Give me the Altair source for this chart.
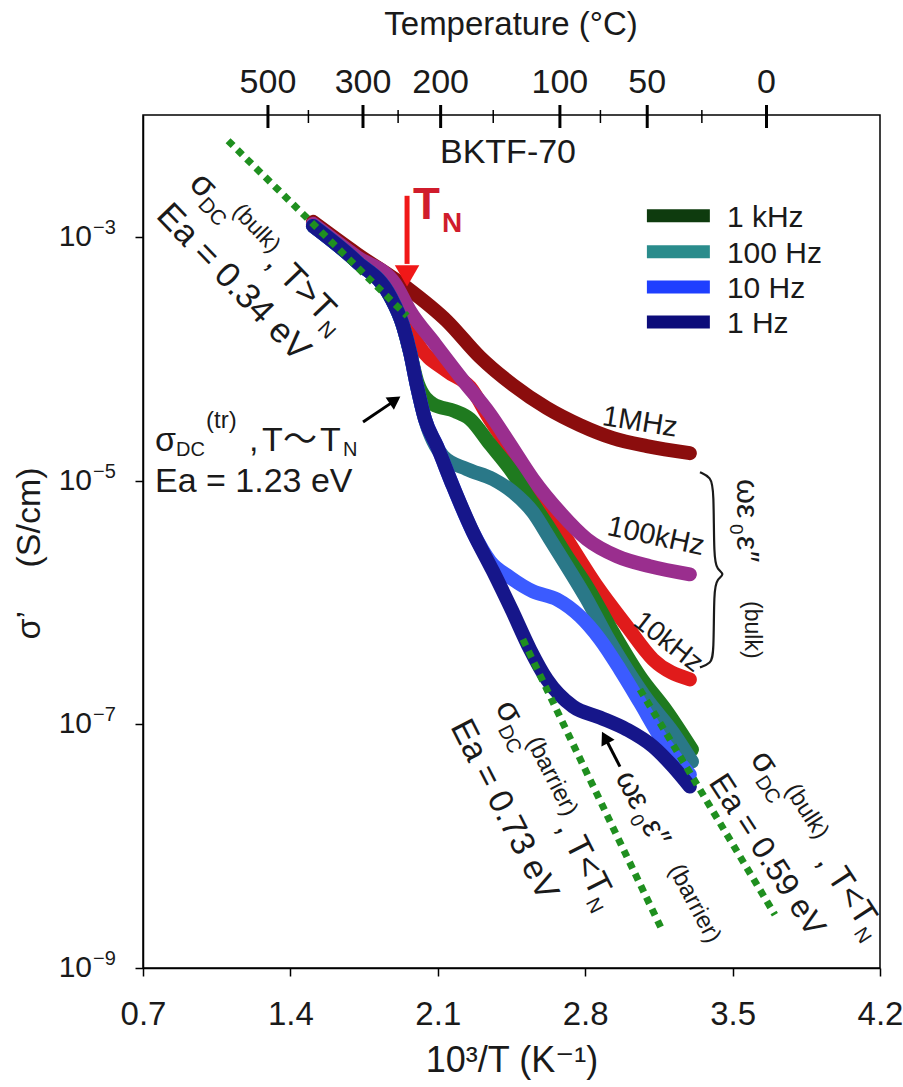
import altair as alt
import pandas as pd

FONT = "Liberation Sans, Arial, DejaVu Sans, sans-serif"
INK = "#1a1a1a"

# ---------------- data ----------------
# x = 1000/T (K^-1), lg = log10(sigma' in S/cm)
x_1MHz = [1.507, 1.716, 1.954, 2.143, 2.300, 2.457, 2.618, 2.775, 2.932, 3.093, 3.297]
lg_1MHz = [-2.877, -3.140, -3.419, -3.690, -3.986, -4.216, -4.405, -4.545, -4.652, -4.717, -4.775]

x_100kHz = [1.507, 1.716, 1.897, 1.968, 2.087, 2.215, 2.348, 2.443, 2.552, 2.680, 2.808, 2.951, 3.107, 3.297]
lg_100kHz = [-2.893, -3.164, -3.386, -3.608, -3.879, -4.167, -4.454, -4.701, -4.988, -5.260, -5.481, -5.621, -5.703, -5.769]

x_10kHz = [1.507, 1.716, 1.873, 1.944, 2.006, 2.143, 2.253, 2.348, 2.457, 2.585, 2.713, 2.856, 2.998, 3.122, 3.297]
lg_10kHz = [-2.901, -3.181, -3.444, -3.657, -3.879, -4.101, -4.233, -4.500, -4.783, -5.128, -5.481, -5.868, -6.196, -6.468, -6.632]

x_1kHz = [1.507, 1.716, 1.873, 1.935, 1.968, 2.006, 2.077, 2.181, 2.253, 2.348, 2.443, 2.538, 2.633, 2.713, 2.808, 2.932, 3.060, 3.188, 3.307]
lg_1kHz = [-2.910, -3.205, -3.485, -3.731, -3.945, -4.208, -4.372, -4.430, -4.495, -4.701, -4.906, -5.153, -5.399, -5.621, -5.868, -6.246, -6.607, -6.895, -7.207]

x_100Hz = [1.507, 1.716, 1.873, 1.935, 1.968, 2.001, 2.039, 2.125, 2.238, 2.362, 2.457, 2.552, 2.633, 2.713, 2.808, 2.903, 2.998, 3.093, 3.217, 3.307]
lg_100Hz = [-2.910, -3.205, -3.485, -3.731, -3.945, -4.224, -4.495, -4.800, -4.906, -4.988, -5.095, -5.260, -5.481, -5.703, -5.975, -6.279, -6.550, -6.796, -7.067, -7.306]

x_10Hz = [1.507, 1.716, 1.873, 1.935, 1.968, 2.001, 2.039, 2.096, 2.172, 2.267, 2.348, 2.443, 2.552, 2.666, 2.775, 2.870, 2.965, 3.060, 3.155, 3.297]
lg_10Hz = [-2.910, -3.205, -3.485, -3.731, -3.945, -4.224, -4.495, -4.717, -5.046, -5.424, -5.662, -5.794, -5.909, -5.975, -6.114, -6.303, -6.550, -6.821, -7.100, -7.413]

x_1Hz = [1.507, 1.716, 1.873, 1.935, 1.968, 2.001, 2.039, 2.096, 2.172, 2.267, 2.362, 2.452, 2.538, 2.618, 2.742, 2.870, 2.998, 3.122, 3.217, 3.297]
lg_1Hz = [-2.910, -3.205, -3.485, -3.731, -3.945, -4.224, -4.495, -4.717, -5.046, -5.424, -5.744, -6.065, -6.385, -6.632, -6.854, -6.944, -7.043, -7.182, -7.347, -7.511]

series_names = ["1MHz", "10kHz", "100kHz", "1kHz", "100Hz", "10Hz", "1Hz"]
series_x = [x_1MHz, x_10kHz, x_100kHz, x_1kHz, x_100Hz, x_10Hz, x_1Hz]
series_lg = [lg_1MHz, lg_10kHz, lg_100kHz, lg_1kHz, lg_100Hz, lg_10Hz, lg_1Hz]
series_colors = ["#8B0D0D", "#E01B1B", "#9A2E8E", "#1F7A1F", "#2A7888", "#3B5BFF", "#16168A"]

# Arrhenius fits (dotted green lines): end points
fit_names = ["bulk_high", "barrier", "bulk_low"]
fit_x = [[1.104, 1.954], [2.504, 3.169], [3.060, 3.701]]
fit_lg = [[-2.211, -3.649], [-6.303, -8.703], [-6.714, -8.563]]

legend_labels = ["1 kHz", "100 Hz", "10 Hz", "1 Hz"]
legend_colors = ["#0E3B0E", "#2A8C8C", "#1F3FFF", "#0C0C7A"]
legend_lg = [-2.827, -3.123, -3.411, -3.698]

x_ticks = [0.7, 1.4, 2.1, 2.8, 3.5, 4.2]
y_ticks = [1e-9, 1e-7, 1e-5, 1e-3]
y_tick_exp = ["\u22129", "\u22127", "\u22125", "\u22123"]

temp_major = [500, 300, 200, 100, 50, 0]
temp_minor = [400, 250, 150, 75, 25]

brace_x = [3.345, 3.397, 3.411, 3.411, 3.426, 3.464, 3.426, 3.411, 3.411, 3.397, 3.345]
brace_lg = [-4.931, -4.972, -5.071, -5.646, -5.728, -5.769, -5.810, -5.892, -6.426, -6.500, -6.533]

# ---------------- scales & axes ----------------
XS = alt.Scale(domain=[0.7, 4.2], nice=False, zero=False)
YS = alt.Scale(type="log", domain=[1e-9, 1e-2], nice=False)

XAXIS = alt.Axis(
    values=x_ticks, format=".1f", labelFontSize=33, labelFont=FONT, labelColor=INK,
    labelFlush=False, labelOverlap=False, labelPadding=22, tickSize=8,
    title="10\u00b3/T (K\u207b\u00b9)", titleFontSize=36, titleFont=FONT,
    titleFontWeight="normal", titleColor=INK, titlePadding=12)
YAXIS = alt.Axis(
    values=y_ticks, labels=False, tickSize=8,
    title="\u03c3\u2019\u2003 (S/cm)", titleFontSize=34, titleFont=FONT,
    titleFontWeight="normal", titleColor=INK, titleX=-97, titleY=438,
    titleBaseline="bottom")


def X(field="x"):
    return alt.X(f"{field}:Q", scale=XS, axis=XAXIS)


def Y(field="y"):
    return alt.Y(f"{field}:Q", scale=YS, axis=YAXIS)


layers = []

# curves
for name, xs, lgs, col in zip(series_names, series_x, series_lg, series_colors):
    df = pd.DataFrame({"x": xs, "y": [10 ** v for v in lgs]})
    layers.append(alt.Chart(df).mark_line(
        color=col, strokeWidth=14, strokeCap="round", strokeJoin="round",
        interpolate="monotone").encode(x=X(), y=Y()))

# dotted fit lines
fit_rows = []
for n, xs, lgs in zip(fit_names, fit_x, fit_lg):
    for xv, lv in zip(xs, lgs):
        fit_rows.append({"fit": n, "x": xv, "y": 10 ** lv})
layers.append(alt.Chart(pd.DataFrame(fit_rows)).mark_line(
    color="#1F8F1F", strokeWidth=7, strokeDash=[7, 6], strokeCap="butt").encode(
    x=X(), y=Y(), detail="fit:N"))

# y tick labels 10^n
ydf = pd.DataFrame({"y": y_ticks, "b": ["10"] * 4, "e": y_tick_exp})
layers.append(alt.Chart(ydf).mark_text(font=FONT, fontSize=30, align="right", baseline="middle",
                                       color=INK).encode(x=alt.value(-51), y=Y(), text="b:N"))
layers.append(alt.Chart(ydf).mark_text(font=FONT, fontSize=20, align="left", baseline="middle",
                                       color=INK, dy=-9).encode(x=alt.value(-50), y=Y(), text="e:N"))

# top temperature axis
tmaj = pd.DataFrame({"x": [1000 / (t + 273.15) for t in temp_major], "lab": [str(t) for t in temp_major]})
tmin = pd.DataFrame({"x": [1000 / (t + 273.15) for t in temp_minor]})
layers.append(alt.Chart(tmaj).mark_rule(color="black", strokeWidth=3).encode(
    x=X(), y=alt.value(-10), y2=alt.value(13)))
layers.append(alt.Chart(tmin).mark_rule(color="black", strokeWidth=1.5).encode(
    x=X(), y=alt.value(-5), y2=alt.value(8)))
layers.append(alt.Chart(tmaj).mark_text(font=FONT, fontSize=34, align="center", baseline="alphabetic",
                                        color=INK).encode(x=X(), y=alt.value(-22), text="lab:N"))
layers.append(alt.Chart(pd.DataFrame({"t": ["Temperature (\u00b0C)"]})).mark_text(
    font=FONT, fontSize=33, align="center", baseline="alphabetic", color=INK).encode(
    x=alt.value(368), y=alt.value(-80), text="t:N"))
layers.append(alt.Chart(pd.DataFrame({"t": ["BKTF-70"]})).mark_text(
    font=FONT, fontSize=34, align="center", baseline="alphabetic", color=INK).encode(
    x=alt.value(365), y=alt.value(48), text="t:N"))

# legend
ldf = pd.DataFrame({"x": [3.093] * 4, "x2": [3.392] * 4, "y": [10 ** v for v in legend_lg],
                    "lab": legend_labels, "c": legend_colors})
layers.append(alt.Chart(ldf).mark_rule(strokeWidth=13, strokeCap="butt").encode(
    x=X(), x2="x2:Q", y=Y(),
    color=alt.Color("c:N", scale=None)))
layers.append(alt.Chart(ldf.assign(x=3.473)).mark_text(
    font=FONT, fontSize=30, align="left", baseline="middle", color=INK, dy=2).encode(
    x=X(), y=Y(), text="lab:N"))


def piece(x, lg, text, size, angle=0, dx=0, dy=0, color=INK, align="left",
          baseline="alphabetic", weight="normal", font=FONT):
    df = pd.DataFrame({"x": [x], "y": [10 ** lg], "t": [text]})
    kw = dict(font=font, fontSize=size, align=align, baseline=baseline, color=color,
              fontWeight=weight, dx=dx, dy=dy)
    if angle:
        kw["angle"] = angle
    return alt.Chart(df).mark_text(**kw).encode(x=X(), y=Y(), text="t:N")


def group(anchor, angle, pieces, **kw):
    return [piece(anchor[0], anchor[1], t, s, angle, dx, dy, **kw) for (t, s, dx, dy) in pieces]


# sigma_DC(bulk), T>TN ; Ea = 0.34 eV
layers += group((0.757, -2.836), 46, [
    ("Ea = 0.34 eV", 35, 0, 0),
    ("\u03c3", 35, 0, -46), ("DC", 21, 21, -38), ("(bulk)", 23, 50, -58),
    (", T>T", 35, 110, -46), ("N", 21, 193, -38)])

# sigma_DC(tr), T~TN ; Ea = 1.23 eV
layers += group((0.757, -5.095), 0, [
    ("Ea = 1.23 eV", 34, 0, 0),
    ("\u03c3", 34, 0, -41), ("DC", 20, 21, -36), ("(tr)", 24, 51, -64),
    (",", 34, 94, -41), ("T", 34, 107, -41), ("N", 20, 188, -36)])
layers.append(piece(0.757, -5.095, "\u301c", 34, 0, 128, -41,
                    font="Noto Sans CJK JP, DejaVu Sans, sans-serif"))
layers.append(piece(0.757, -5.095, "T", 34, 0, 165, -41))

# T_N label
layers += group((1.982, -2.852), 0, [("T", 44, 0, 0), ("N", 28, 29, 13)],
                color="#D01C2C", weight="bold")

# barrier: sigma_DC(barrier), T<TN ; Ea = 0.73 eV
layers += group((2.158, -7.018), 63, [
    ("Ea = 0.73 eV", 34, 0, 0),
    ("\u03c3", 34, 3, -49), ("DC", 20, 24, -41), ("(barrier)", 24, 48, -61),
    (", T<T", 34, 138, -49), ("N", 20, 218, -41)])

# omega eps0 eps'' (barrier)
layers += group((2.941, -7.437), 62, [
    ("\u03c9", 32, 0, 0), ("\u03b5", 32, 24, 0), ("0", 19, 43, 7), ("\u03b5", 32, 55, 0),
    ("\u2033", 32, 70, 0), ("(barrier)", 24, 106, -4)])

# bulk low T: sigma_DC(bulk), T<TN ; Ea = 0.59 eV
layers += group((3.383, -7.478), 57, [
    ("Ea = 0.59 eV", 32, 0, 0),
    ("\u03c3", 34, 3, -48), ("DC", 20, 24, -40), ("(bulk)", 24, 48, -60),
    (", T<T", 34, 125, -48), ("N", 20, 205, -40)])

# omega eps0 eps'' (bulk) next to the brace
layers += group((3.521, -4.988), 90, [
    ("\u03c9", 32, 0, 0), ("\u03b5", 32, 25, 0), ("0", 19, 45, 7), ("\u03b5", 32, 57, 0),
    ("\u2033", 32, 72, 0), ("(bulk)", 23, 122, -8)])

# curve labels
layers.append(piece(3.060, -4.520, "1MHz", 29, 9, align="center", baseline="middle"))
layers.append(piece(3.136, -5.457, "100kHz", 29, 12, align="center", baseline="middle"))
layers.append(piece(3.193, -6.328, "10kHz", 28, 38, align="center", baseline="middle"))

# brace
bdf = pd.DataFrame({"x": brace_x, "y": [10 ** v for v in brace_lg], "i": list(range(len(brace_x)))})
layers.append(alt.Chart(bdf).mark_line(color=INK, strokeWidth=2.2, interpolate="basis").encode(
    x=X(), y=Y(), order="i:Q"))

# arrows
adf = pd.DataFrame({"x": [1.745, 2.965], "x2": [1.892, 2.894],
                    "y": [10 ** -4.520, 10 ** -7.347], "y2": [10 ** -4.348, 10 ** -7.108]})
layers.append(alt.Chart(adf).mark_rule(color="black", strokeWidth=3).encode(
    x=X(), x2="x2:Q", y=Y(), y2="y2:Q"))
layers.append(alt.Chart(pd.DataFrame({"x": [1.897], "y": [10 ** -4.339]})).mark_point(
    shape="triangle-up", size=220, filled=True, color="black", opacity=1, angle=56).encode(x=X(), y=Y()))
layers.append(alt.Chart(pd.DataFrame({"x": [2.894], "y": [10 ** -7.108]})).mark_point(
    shape="triangle-up", size=220, filled=True, color="black", opacity=1, angle=332).encode(x=X(), y=Y()))
# red T_N arrow
layers.append(alt.Chart(pd.DataFrame({"x": [1.954], "y": [10 ** -2.663], "y2": [10 ** -3.222]})).mark_rule(
    color="#F01818", strokeWidth=5).encode(x=X(), y=Y(), y2="y2:Q"))
layers.append(alt.Chart(pd.DataFrame({"x": [1.954], "y": [10 ** -3.320]})).mark_point(
    shape="triangle-down", size=600, filled=True, color="#F01818", opacity=1).encode(x=X(), y=Y()))

chart = alt.layer(*layers).properties(
    width=737, height=853,
    padding={"left": 143, "top": 115, "right": 23, "bottom": 119},
    autosize=alt.AutoSizeParams(type="none"),
).configure_view(stroke="black", strokeWidth=1.5).configure_axis(
    domainColor="black", domainWidth=1.5, tickColor="black", tickWidth=1.5, grid=False)

chart.save("out.html", embed_options={"renderer": "svg", "actions": False})
